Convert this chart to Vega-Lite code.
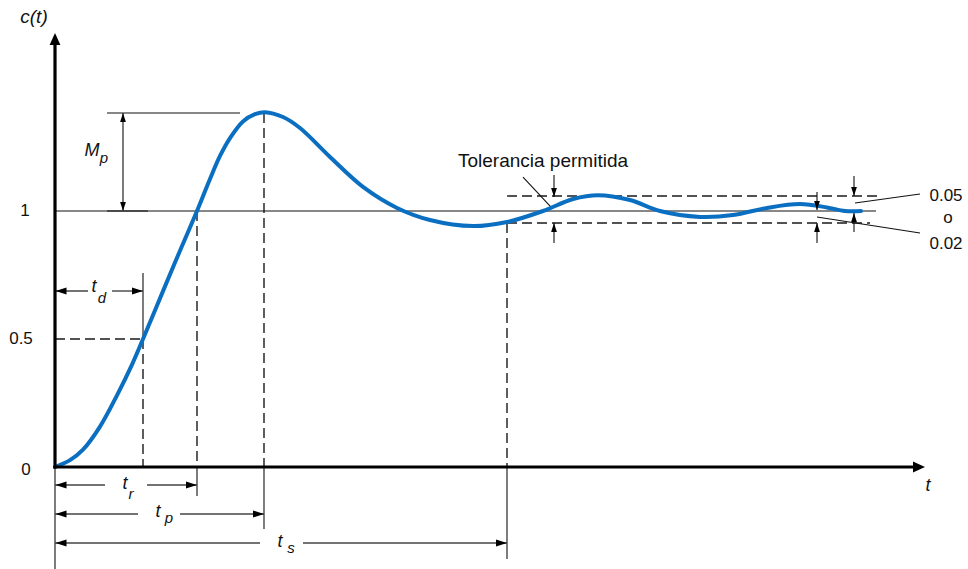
{
  "$schema": "https://vega.github.io/schema/vega-lite/v6.json",
  "width": 968,
  "height": 569,
  "padding": 0,
  "autosize": {"type": "none"},
  "background": "#ffffff",
  "config": {"view": {"stroke": null}},
  "datasets": {
    "curve": [
      {"t": 0, "c": 0}, {"t": 0.3, "c": 0.027}, {"t": 0.56, "c": 0.068}, {"t": 0.9, "c": 0.158},
      {"t": 1.24, "c": 0.28}, {"t": 1.54, "c": 0.4}, {"t": 1.76, "c": 0.5}, {"t": 2.16, "c": 0.687},
      {"t": 2.5, "c": 0.845}, {"t": 2.84, "c": 1.0}, {"t": 3.1, "c": 1.125}, {"t": 3.3, "c": 1.215},
      {"t": 3.5, "c": 1.285}, {"t": 3.76, "c": 1.35}, {"t": 4.0, "c": 1.378}, {"t": 4.2, "c": 1.386},
      {"t": 4.56, "c": 1.367}, {"t": 4.9, "c": 1.324}, {"t": 5.5, "c": 1.211}, {"t": 6.16, "c": 1.094},
      {"t": 6.84, "c": 1.012}, {"t": 7.5, "c": 0.965}, {"t": 8.36, "c": 0.941}, {"t": 9.04, "c": 0.957},
      {"t": 9.76, "c": 1.0}, {"t": 10.36, "c": 1.047}, {"t": 10.86, "c": 1.062}, {"t": 11.5, "c": 1.043},
      {"t": 12.1, "c": 1.0}, {"t": 12.9, "c": 0.977}, {"t": 13.56, "c": 0.984}, {"t": 14.24, "c": 1.012},
      {"t": 14.9, "c": 1.027}, {"t": 15.44, "c": 1.014}, {"t": 15.8, "c": 1.0}, {"t": 16.12, "c": 1.0}
    ],
    "dashed": [
      {"t": 0, "c": 0.5, "t2": 1.76, "c2": 0.5},
      {"t": 1.76, "c": 0.5, "t2": 1.76, "c2": 0},
      {"t": 2.84, "c": 1.0, "t2": 2.84, "c2": 0},
      {"t": 4.18, "c": 1.3828, "t2": 4.18, "c2": 0},
      {"t": 9.04, "c": 0.9531, "t2": 9.04, "c2": 0},
      {"t": 9.04, "c": 1.0586, "t2": 16.44, "c2": 1.0586},
      {"t": 9.04, "c": 0.9531, "t2": 16.3, "c2": 0.9531}
    ],
    "thin": [
      {"t": 0, "c": 1.0, "t2": 16.42, "c2": 1.0},
      {"t": 1.04, "c": 1.3828, "t2": 3.7, "c2": 1.3828},
      {"t": 1.04, "c": 1.0, "t2": 1.86, "c2": 1.0},
      {"t": 1.76, "c": 0.7578, "t2": 1.76, "c2": 0.5},
      {"t": 2.84, "c": 0, "t2": 2.84, "c2": -0.1133},
      {"t": 4.18, "c": 0, "t2": 4.18, "c2": -0.2422},
      {"t": 9.04, "c": 0, "t2": 9.04, "c2": -0.3594},
      {"t": 0, "c": 0, "t2": 0, "c2": -0.3984},
      {"t": 9.36, "c": 1.1328, "t2": 9.94, "c2": 1.0117},
      {"t": 16.0, "c": 1.0313, "t2": 17.3, "c2": 1.0664},
      {"t": 15.24, "c": 0.9766, "t2": 17.3, "c2": 0.9141},
      {"t": 9.98, "c": 1.1406, "t2": 9.98, "c2": 1.0547},
      {"t": 9.98, "c": 0.875, "t2": 9.98, "c2": 0.9531},
      {"t": 15.24, "c": 1.0742, "t2": 15.24, "c2": 1.0039},
      {"t": 15.24, "c": 0.875, "t2": 15.24, "c2": 0.9531},
      {"t": 15.98, "c": 1.1367, "t2": 15.98, "c2": 1.0586},
      {"t": 15.98, "c": 0.918, "t2": 15.98, "c2": 0.9922}
    ],
    "dims": [
      {"t": 0, "c": 0.6875, "t2": 0.66, "c2": 0.6875},
      {"t": 1.14, "c": 0.6875, "t2": 1.76, "c2": 0.6875},
      {"t": 0, "c": -0.0703, "t2": 1.0, "c2": -0.0703},
      {"t": 1.84, "c": -0.0703, "t2": 2.84, "c2": -0.0703},
      {"t": 0, "c": -0.1836, "t2": 1.66, "c2": -0.1836},
      {"t": 2.5, "c": -0.1836, "t2": 4.18, "c2": -0.1836},
      {"t": 0, "c": -0.2969, "t2": 4.1, "c2": -0.2969},
      {"t": 4.96, "c": -0.2969, "t2": 9.04, "c2": -0.2969},
      {"t": 1.36, "c": 1.3828, "t2": 1.36, "c2": 1.0}
    ],
    "axes": [
      {"t": 0, "c": -0.006, "t2": 0, "c2": 1.66},
      {"t": -0.03, "c": 0, "t2": 17.2, "c2": 0}
    ],
    "dimHeads": [
      {"t": 0.01, "c": 0.6875, "dir": "left"}, {"t": 1.76, "c": 0.6875, "dir": "right"},
      {"t": 0.01, "c": -0.0703, "dir": "left"}, {"t": 2.84, "c": -0.0703, "dir": "right"},
      {"t": 0.01, "c": -0.1836, "dir": "left"}, {"t": 4.18, "c": -0.1836, "dir": "right"},
      {"t": 0.01, "c": -0.2969, "dir": "left"}, {"t": 9.04, "c": -0.2969, "dir": "right"}
    ],
    "smallHeads": [
      {"t": 1.36, "c": 1.3828, "dir": "up"}, {"t": 1.36, "c": 1.0, "dir": "down"},
      {"t": 9.98, "c": 1.0547, "dir": "down"}, {"t": 9.98, "c": 0.9531, "dir": "up"},
      {"t": 15.24, "c": 1.0039, "dir": "down"}, {"t": 15.24, "c": 0.9531, "dir": "up"},
      {"t": 15.98, "c": 1.0586, "dir": "down"}, {"t": 15.98, "c": 0.9922, "dir": "up"}
    ],
    "axisHeads": [
      {"t": 0, "c": 1.695, "dir": "up"},
      {"t": 17.4, "c": 0, "dir": "right"}
    ],
    "ticks": [
      {"t": -0.6, "c": 1.0, "label": "1"},
      {"t": -0.68, "c": 0.5, "label": "0.5"},
      {"t": -0.58, "c": -0.012, "label": "0"},
      {"t": 17.82, "c": 1.057, "label": "0.05"},
      {"t": 17.86, "c": 0.973, "label": "o"},
      {"t": 17.82, "c": 0.873, "label": "0.02"}
    ],
    "note": [
      {"t": 9.76, "c": 1.195, "label": "Tolerancia permitida"}
    ],
    "title": [
      {"t": -0.42, "c": 1.758, "label": "c(t)"}
    ],
    "symbols": [
      {"t": 0.74, "c": 1.234, "label": "M"},
      {"t": 0.78, "c": 0.703, "label": "t"},
      {"t": 1.4, "c": -0.066, "label": "t"},
      {"t": 2.06, "c": -0.176, "label": "t"},
      {"t": 4.5, "c": -0.293, "label": "t"},
      {"t": 17.46, "c": -0.074, "label": "t"}
    ],
    "subscripts": [
      {"t": 0.98, "c": 1.207, "label": "p"},
      {"t": 0.94, "c": 0.66, "label": "d"},
      {"t": 1.52, "c": -0.105, "label": "r"},
      {"t": 2.28, "c": -0.199, "label": "p"},
      {"t": 4.72, "c": -0.316, "label": "s"}
    ]
  },
  "encoding": {
    "x": {"field": "t", "type": "quantitative", "scale": {"domain": [-1.1, 18.26], "nice": false, "zero": false}, "axis": null},
    "y": {"field": "c", "type": "quantitative", "scale": {"domain": [-0.3984, 1.8242], "nice": false, "zero": false}, "axis": null}
  },
  "layer": [
    {
      "data": {"name": "dashed"},
      "mark": {"type": "rule", "stroke": "#1a1a1a", "strokeWidth": 1.4, "strokeDash": [10, 5]},
      "encoding": {"x2": {"field": "t2"}, "y2": {"field": "c2"}}
    },
    {
      "data": {"name": "thin"},
      "mark": {"type": "rule", "stroke": "#111111", "strokeWidth": 1.1},
      "encoding": {"x2": {"field": "t2"}, "y2": {"field": "c2"}}
    },
    {
      "data": {"name": "dims"},
      "mark": {"type": "rule", "stroke": "#444444", "strokeWidth": 1.4},
      "encoding": {"x2": {"field": "t2"}, "y2": {"field": "c2"}}
    },
    {
      "data": {"name": "curve"},
      "mark": {"type": "line", "stroke": "#0B6FC1", "strokeWidth": 4, "interpolate": "catmull-rom", "strokeCap": "round"}
    },
    {
      "data": {"name": "axes"},
      "mark": {"type": "rule", "stroke": "#000000", "strokeWidth": 3.2},
      "encoding": {"x2": {"field": "t2"}, "y2": {"field": "c2"}}
    },
    {
      "data": {"name": "dimHeads"},
      "mark": {"type": "point", "filled": true, "color": "#000000", "opacity": 1, "size": 121, "strokeWidth": 0},
      "encoding": {
        "shape": {"field": "dir", "type": "nominal", "legend": null,
          "scale": {"domain": ["left", "right", "up", "down"],
                    "range": ["M0,0L2,-0.64L2,0.64Z", "M0,0L-2,-0.64L-2,0.64Z", "M0,0L-0.64,2L0.64,2Z", "M0,0L-0.64,-2L0.64,-2Z"]}}
      }
    },
    {
      "data": {"name": "smallHeads"},
      "mark": {"type": "point", "filled": true, "color": "#000000", "opacity": 1, "size": 80, "strokeWidth": 0},
      "encoding": {
        "shape": {"field": "dir", "type": "nominal", "legend": null,
          "scale": {"domain": ["left", "right", "up", "down"],
                    "range": ["M0,0L2,-0.64L2,0.64Z", "M0,0L-2,-0.64L-2,0.64Z", "M0,0L-0.64,2L0.64,2Z", "M0,0L-0.64,-2L0.64,-2Z"]}}
      }
    },
    {
      "data": {"name": "axisHeads"},
      "mark": {"type": "point", "filled": true, "color": "#000000", "opacity": 1, "size": 144, "strokeWidth": 0},
      "encoding": {
        "shape": {"field": "dir", "type": "nominal", "legend": null,
          "scale": {"domain": ["up", "right"],
                    "range": ["M0,0L-0.9,2L0.9,2Z", "M0,0L-2,-0.9L-2,0.9Z"]}}
      }
    },
    {
      "data": {"name": "ticks"},
      "mark": {"type": "text", "font": "Liberation Sans", "fontSize": 17, "align": "center", "baseline": "middle", "color": "#111111"},
      "encoding": {"text": {"field": "label"}}
    },
    {
      "data": {"name": "note"},
      "mark": {"type": "text", "font": "Liberation Sans", "fontSize": 19, "align": "center", "baseline": "middle", "color": "#111111"},
      "encoding": {"text": {"field": "label"}}
    },
    {
      "data": {"name": "title"},
      "mark": {"type": "text", "font": "Liberation Sans", "fontSize": 19, "fontStyle": "italic", "align": "center", "baseline": "middle", "color": "#111111"},
      "encoding": {"text": {"field": "label"}}
    },
    {
      "data": {"name": "symbols"},
      "mark": {"type": "text", "font": "Liberation Sans", "fontSize": 18, "fontStyle": "italic", "align": "center", "baseline": "middle", "color": "#111111"},
      "encoding": {"text": {"field": "label"}}
    },
    {
      "data": {"name": "subscripts"},
      "mark": {"type": "text", "font": "Liberation Sans", "fontSize": 15, "fontStyle": "italic", "align": "center", "baseline": "middle", "color": "#111111"},
      "encoding": {"text": {"field": "label"}}
    }
  ],
  "resolve": {"scale": {"shape": "independent"}}
}
